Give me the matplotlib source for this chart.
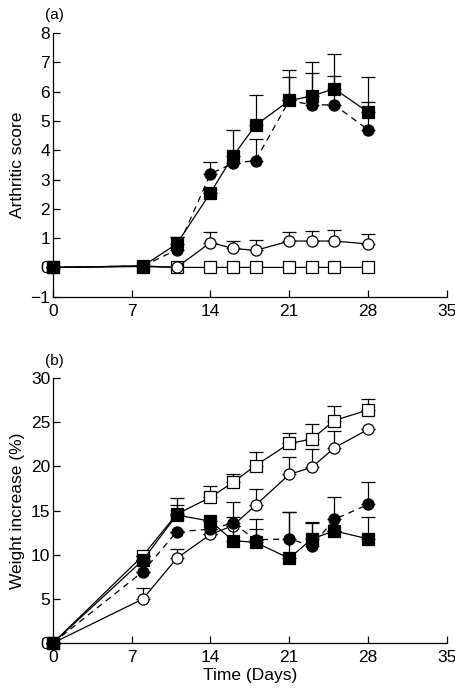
import matplotlib
matplotlib.use("Agg")
import matplotlib.pyplot as plt
import numpy as np

plt.rcParams['font.family'] = ['Liberation Sans', 'DejaVu Sans']

days = [0, 8, 11, 14, 16, 18, 21, 23, 25, 28]

# Panel (a): arthritic score
a_fsq = [0, 0.05, 0.8, 2.55, 3.8, 4.85, 5.7, 5.85, 6.1, 5.3]
a_fsq_err = [0, 0, 0.25, 0.0, 0.9, 1.05, 1.05, 1.15, 1.2, 1.2]
a_fci = [0, 0.05, 0.6, 3.2, 3.55, 3.65, 5.7, 5.55, 5.55, 4.7]
a_fci_err = [0, 0, 0.45, 0.4, 0.0, 0.75, 0.8, 1.1, 1.0, 0.95]
a_oci = [0, 0.05, 0.0, 0.85, 0.65, 0.58, 0.9, 0.9, 0.9, 0.8]
a_oci_err = [0, 0, 0, 0.35, 0.25, 0.35, 0.32, 0.35, 0.38, 0.35]
a_osq = [0, 0.03, 0, 0, 0, 0, 0, 0, 0, 0]

# Panel (b): weight increase (%)
b_osq = [0, 9.9, 14.6, 16.5, 18.2, 20.1, 22.6, 23.1, 25.2, 26.4]
b_osq_err = [0, 0, 1.8, 1.3, 1.0, 1.5, 1.2, 1.7, 1.6, 1.2]
b_oci = [0, 5.0, 9.6, 12.3, 13.3, 15.6, 19.1, 19.9, 22.1, 24.2]
b_oci_err = [0, 1.2, 1.1, 0, 0, 1.9, 2.0, 2.1, 1.9, 0]
b_fci = [0, 8.1, 12.6, 12.9, 13.6, 11.7, 11.8, 11.0, 14.0, 15.7]
b_fci_err = [0, 0, 0, 0, 2.4, 2.4, 3.0, 2.6, 2.5, 2.5]
b_fsq = [0, 9.4, 14.5, 13.8, 11.6, 11.4, 9.6, 11.8, 12.7, 11.8]
b_fsq_err = [0, 0, 1.1, 0, 2.7, 1.5, 5.2, 1.9, 0, 2.5]

fig = plt.figure(figsize=(4.56, 6.9), dpi=100)
ax1 = fig.add_axes([0.116, 0.570, 0.864, 0.382])
ax2 = fig.add_axes([0.116, 0.068, 0.864, 0.384])

ms = 8.5
FS = 12.5

def plain(ax, y, err, marker, fc, ls, z):
    if err is not None:
        ax.errorbar(days, y, yerr=[np.zeros(len(err)), err], fmt='none',
                    ecolor='black', elinewidth=0.9, capsize=5, capthick=0.9, zorder=z)
    kw = dict(color='black', lw=0.9, marker=marker, markersize=ms if marker == 's' else ms - 0.5,
              markerfacecolor=fc, markeredgecolor='black', markeredgewidth=0.9, zorder=z + 0.5)
    if ls == '--':
        ax.plot(days, y, ls='--', dashes=(5, 4), **kw)
    else:
        ax.plot(days, y, ls='-', **kw)

plain(ax1, a_osq, None, 's', 'white', '-', 2)
plain(ax1, a_oci, a_oci_err, 'o', 'white', '-', 3)
plain(ax1, a_fci, a_fci_err, 'o', 'black', '--', 4)
plain(ax1, a_fsq, a_fsq_err, 's', 'black', '-', 5)

plain(ax2, b_osq, b_osq_err, 's', 'white', '-', 2)
plain(ax2, b_oci, b_oci_err, 'o', 'white', '-', 3)
plain(ax2, b_fci, b_fci_err, 'o', 'black', '--', 4)
plain(ax2, b_fsq, b_fsq_err, 's', 'black', '-', 5)

for ax in (ax1, ax2):
    ax.spines['top'].set_visible(False)
    ax.spines['right'].set_visible(False)
    ax.spines['left'].set_linewidth(0.9)
    ax.spines['bottom'].set_linewidth(0.9)
    ax.set_xlim(0, 35)
    ax.set_xticks([0, 7, 14, 21, 28, 35])
    ax.tick_params(direction='in', length=5, width=0.9, labelsize=FS)
    ax.tick_params(axis='x', pad=5)
    ax.tick_params(axis='y', pad=2)

ax1.set_ylim(-1, 8)
ax1.set_yticks(range(-1, 9))
ax1.set_yticklabels(['\u22121'] + [str(i) for i in range(0, 9)])
ax1.set_ylabel('Arthritic score', fontsize=FS, labelpad=4)

ax2.set_ylim(0, 30)
ax2.set_yticks(range(0, 31, 5))
ax2.set_ylabel('Weight increase (%)', fontsize=FS, labelpad=4)
ax2.set_xlabel('Time (Days)', fontsize=FS, labelpad=2)

for ax in (ax1, ax2):
    for a in ax.lines:
        a.set_clip_on(False)
    for c in ax.collections:
        c.set_clip_on(False)

fig.text(0.098, 0.978, '(a)', fontsize=11, ha='left', va='center')
fig.text(0.098, 0.477, '(b)', fontsize=11, ha='left', va='center')

fig.savefig('out.png', dpi=100)
